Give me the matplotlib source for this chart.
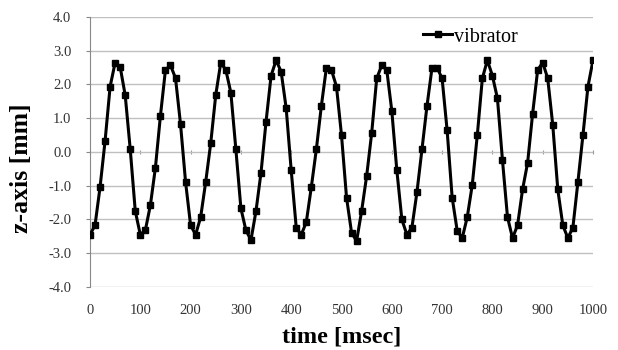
import numpy as np
import matplotlib
matplotlib.use("Agg")
import matplotlib.pyplot as plt

time_ms = list(range(0, 1001, 10))
z_mm = [
    -2.45, -2.17, -1.04, 0.33, 1.94, 2.65, 2.52, 1.68, 0.08, -1.75,
    -2.45, -2.32, -1.58, -0.47, 1.07, 2.43, 2.57, 2.19, 0.82, -0.89,
    -2.17, -2.45, -1.93, -0.89, 0.26, 1.69, 2.65, 2.43, 1.76, 0.08,
    -1.67, -2.32, -2.61, -1.75, -0.61, 0.90, 2.26, 2.72, 2.38, 1.30,
    -0.54, -2.24, -2.45, -2.08, -1.04, 0.08, 1.37, 2.50, 2.43, 1.94,
    0.50, -1.35, -2.39, -2.64, -1.75, -0.71, 0.56, 2.18, 2.57, 2.43,
    1.22, -0.54, -2.00, -2.45, -2.24, -1.19, 0.08, 1.37, 2.50, 2.50,
    2.18, 0.64, -1.35, -2.33, -2.55, -1.93, -0.97, 0.50, 2.18, 2.72,
    2.26, 1.59, -0.24, -1.93, -2.55, -2.17, -1.11, -0.32, 1.14, 2.43,
    2.65, 2.18, 0.80, -1.11, -2.17, -2.55, -2.24, -0.89, 0.50, 1.94,
    2.72,
]
x_ticks = list(range(0, 1001, 100))
y_ticks = [-4.0, -3.0, -2.0, -1.0, 0.0, 1.0, 2.0, 3.0, 4.0]

plt.rcParams['font.family'] = ['Liberation Serif', 'DejaVu Serif']

fig = plt.figure(figsize=(6.18, 3.5), dpi=100)
ax = fig.add_axes([90/618, 1-287/350, 503/618, 270/350])

ax.plot(time_ms, z_mm, color='black', lw=2.2, marker='s', ms=5,
        label='vibrator', zorder=3)

ax.set_xlim(0, 1000)
ax.set_ylim(-4, 4)
ax.set_yticks(y_ticks)
ax.set_yticklabels([f"{v:.1f}" for v in y_ticks])
ax.set_xticks(x_ticks)
ax.set_xticklabels([str(v) for v in x_ticks])
ax.yaxis.grid(True, color='#c0c0c0', lw=1)
ax.set_axisbelow(True)

for s in ['top', 'right', 'bottom']:
    ax.spines[s].set_visible(False)
ax.spines['left'].set_color('#888888')
ax.tick_params(axis='y', length=3, color='#888888', labelsize=10.5,
               labelcolor='#333333', pad=10.5)
ax.tick_params(axis='x', length=0, labelsize=10.5, labelcolor='#333333', pad=12.5)

sec = ax.secondary_xaxis(0.5)
sec.set_xticks(x_ticks)
sec.tick_params(axis='x', length=3, direction='inout', color='#999999',
                labelbottom=False, labeltop=False)
sec.spines['bottom'].set_visible(False)
sec.spines['top'].set_visible(False)

ax.set_xlabel('time [msec]', fontsize=17.5, fontweight='bold', va='top')
ax.xaxis.set_label_coords(0.5, -0.148)
ax.set_ylabel('z-axis [mm]', fontsize=18.5, fontweight='bold')
ax.yaxis.set_label_coords(-0.113, 0.44)

ax.legend(loc='center left', bbox_to_anchor=(0.662, 0.926), frameon=False,
          fontsize=14.5, handlelength=1.45, handletextpad=0.08,
          borderpad=0, borderaxespad=0, markerscale=0.8)

fig.savefig('out.png', dpi=100)
